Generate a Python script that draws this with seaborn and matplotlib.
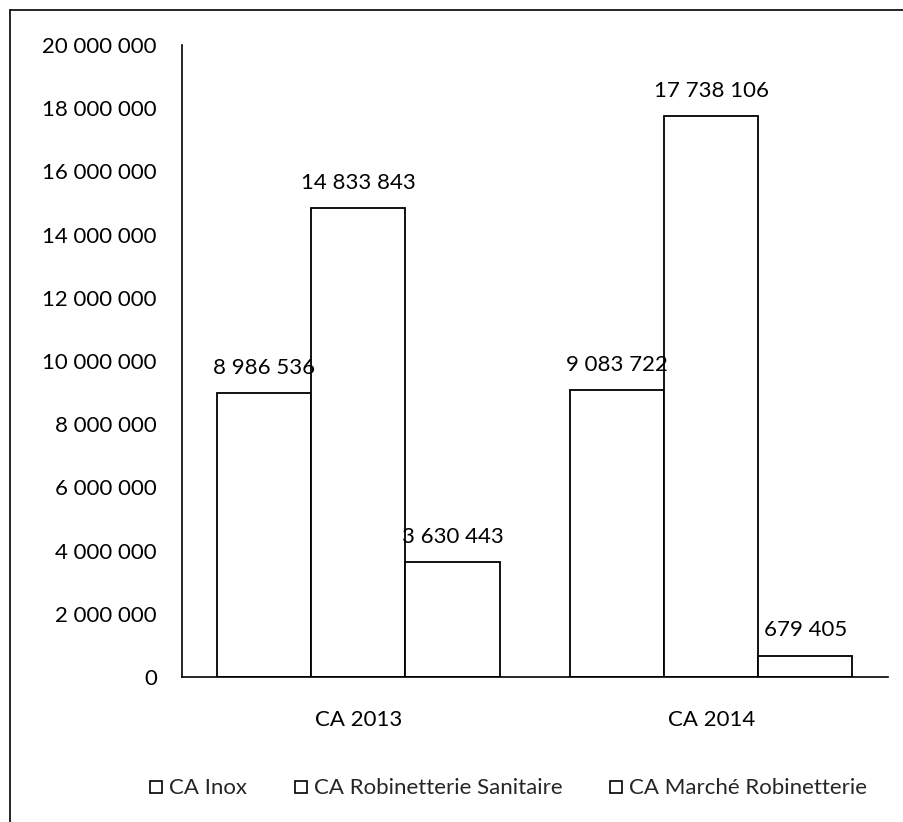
import pandas as pd
import matplotlib
matplotlib.use("Agg")
import matplotlib.pyplot as plt
import seaborn as sns
from matplotlib.lines import Line2D
from matplotlib.ticker import FuncFormatter

# Données
annees = ['CA 2013', 'CA 2014']
series = ['CA Inox', 'CA Robinetterie Sanitaire', 'CA Marché Robinetterie']
inox = [8986536, 9083722]
sanitaire = [14833843, 17738106]
marche = [3630443, 679405]

rows = []
for i, a in enumerate(annees):
    rows.append((a, series[0], inox[i]))
    rows.append((a, series[1], sanitaire[i]))
    rows.append((a, series[2], marche[i]))
df = pd.DataFrame(rows, columns=['Annee', 'Serie', 'CA'])

sns.set_style('white')
plt.rcParams['font.family'] = ['Lato', 'DejaVu Sans']


def espace(v):
    return f"{int(round(v)):,}".replace(',', ' ')


fig = plt.figure(figsize=(9.04, 8.22), dpi=100)
ax = fig.add_axes([0.2013, 0.1764, 0.7807, 0.7689])

sns.barplot(data=df, x='Annee', y='CA', hue='Serie', hue_order=series,
            palette=['white'] * 3, edgecolor='black', linewidth=1.3,
            width=0.8, ax=ax, legend=False)

for cont in ax.containers:
    ax.bar_label(cont, labels=[espace(v) for v in cont.datavalues],
                 padding=11, fontsize=16, color='black')

ax.set_ylim(0, 20000000)
ax.set_yticks(range(0, 20000001, 2000000))
ax.yaxis.set_major_formatter(FuncFormatter(lambda v, p: espace(v)))
ax.tick_params(axis='both', length=0, labelsize=16, colors='black')
ax.tick_params(axis='y', pad=18)
ax.tick_params(axis='x', pad=24)
ax.set_xlabel('')
ax.set_ylabel('')
for s in ['top', 'right']:
    ax.spines[s].set_visible(False)
for s in ['left', 'bottom']:
    ax.spines[s].set_color('black')
    ax.spines[s].set_linewidth(1.2)

handles = [Line2D([], [], marker='s', linestyle='none', markersize=8,
                  markerfacecolor='white', markeredgecolor='black',
                  markeredgewidth=1.2) for _ in series]
fig.legend(handles, series, loc='center', bbox_to_anchor=(0.561, 0.041),
           ncol=3, frameon=False, fontsize=16, handletextpad=0.2,
           columnspacing=2.0, handlelength=0.8)

# cadre du graphique (bords gauche et haut visibles)
fig.add_artist(Line2D([0.011, 0.011], [0.0, 0.988], color='black', lw=1.2,
                      transform=fig.transFigure))
fig.add_artist(Line2D([0.011, 1.0], [0.988, 0.988], color='black', lw=1.2,
                      transform=fig.transFigure))

fig.savefig('out.png', dpi=100, facecolor='white')
